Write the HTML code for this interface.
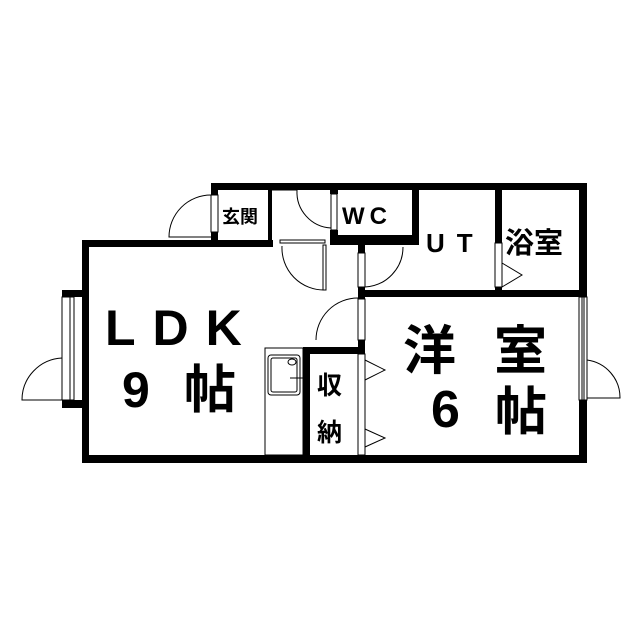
<!DOCTYPE html>
<html><head><meta charset="utf-8"><style>
html,body{margin:0;padding:0;background:#fff}
svg{display:block}
text{font-family:"Liberation Sans","Noto Sans CJK JP",sans-serif;fill:#000;font-weight:bold}
</style></head><body>
<svg width="640" height="640" viewBox="0 0 640 640">
<g fill="#000">
<rect x="211" y="183" width="376" height="7"/>
<rect x="211" y="183" width="7" height="12"/>
<rect x="211" y="232" width="7" height="14"/>
<rect x="82" y="240" width="191" height="7"/>
<rect x="82" y="240" width="7" height="223"/>
<rect x="62" y="290" width="27" height="7"/>
<rect x="62" y="400" width="27" height="8"/>
<rect x="82" y="455" width="505" height="8"/>
<rect x="579" y="183" width="8" height="280"/>
<rect x="268" y="190" width="4" height="50"/>
<rect x="330" y="190" width="8" height="4"/>
<rect x="330" y="230" width="8" height="15"/>
<rect x="330" y="235" width="88" height="10"/>
<rect x="412" y="183" width="7" height="62"/>
<rect x="495" y="183" width="7" height="60"/>
<rect x="495" y="287" width="7" height="10"/>
<rect x="358" y="290" width="229" height="7"/>
<rect x="358" y="245" width="7" height="8"/>
<rect x="358" y="287" width="7" height="12"/>
<rect x="358" y="340" width="7" height="14"/>
<rect x="303" y="347" width="62" height="7"/>
<rect x="303" y="347" width="7" height="113"/>
</g>
<g fill="#fff" stroke="#000" stroke-width="1">
<rect x="62" y="297" width="8" height="103"/>
<rect x="70" y="297" width="4" height="103"/>
<rect x="579" y="297" width="8" height="103"/>
<rect x="582" y="297" width="2" height="103"/>
<rect x="211" y="195" width="7" height="37"/>
<rect x="331" y="194" width="6" height="36"/>
<rect x="495" y="243" width="7" height="44"/>
<rect x="358" y="253" width="7" height="34"/>
<rect x="358" y="299" width="7" height="41"/>
<rect x="358" y="354" width="7" height="101"/>
<rect x="265" y="348" width="38" height="107"/>
<rect x="268" y="355" width="32" height="40" rx="3"/>
<rect x="271" y="358" width="26" height="34" rx="2"/>
<ellipse cx="292" cy="362" rx="4" ry="3"/>
<rect x="323" y="245" width="3" height="45"/>
<rect x="280" y="240" width="45" height="3"/>
</g>
<g fill="none" stroke="#000" stroke-width="1">
<path d="M211 195 A42 42 0 0 0 169 237 L211 237"/>
<path d="M297 190 A36 36 0 0 0 331 228"/>
<path d="M270 190 L297 190"/>
<path d="M282 246 A42 42 0 0 0 325 290"/>
<path d="M365 287 A40 40 0 0 0 403 247"/>
<path d="M316 340 A42 42 0 0 1 358 298"/>
<path d="M502 263 L522 275 L502 287"/>
<path d="M365 360 L385 370 L365 380"/>
<path d="M365 429 L385 438 L365 447"/>
<path d="M62 358 A42 42 0 0 0 22 400 L62 400"/>
<path d="M587 360 A38 38 0 0 1 620 398 L587 398"/>
<path d="M290 378 L303 378"/>
</g>
<text x="222" y="223" font-size="18">玄関</text>
<text x="342" y="224" font-size="24" letter-spacing="5">WC</text>
<text x="426" y="252" font-size="26" letter-spacing="12">UT</text>
<text x="505" y="253" font-size="29">浴室</text>
<text x="105" y="345" font-size="50" letter-spacing="17">LDK</text>
<text x="122" y="407" font-size="50">9</text>
<text x="184" y="408" font-size="52">帖</text>
<text x="317" y="394" font-size="25">収</text>
<text x="317" y="441" font-size="25">納</text>
<text x="403" y="369" font-size="53">洋</text>
<text x="494" y="369" font-size="53">室</text>
<text x="431" y="427" font-size="52">6</text>
<text x="495" y="430" font-size="52">帖</text>
</svg>
</body></html>
